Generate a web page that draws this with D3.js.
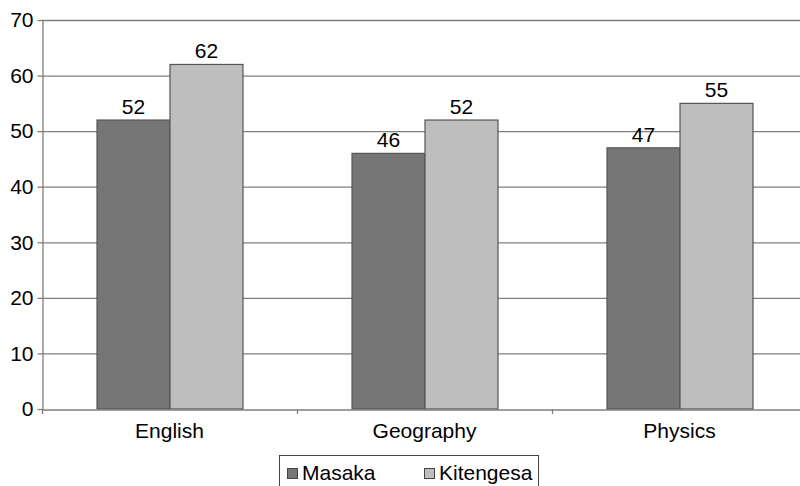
<!DOCTYPE html>
<html><head><meta charset="utf-8">
<script src="https://cdn.jsdelivr.net/npm/d3@7"></script>
<style>
html,body{margin:0;padding:0;background:#fff;overflow:hidden}
text{font-family:"Liberation Sans",Arial,sans-serif;fill:#000}
</style></head>
<body><svg id="c" width="800" height="486"></svg>
<script>
const categories = ["English", "Geography", "Physics"];
const seriesNames = ["Masaka", "Kitengesa"];
const masaka = [52, 46, 47];
const kitengesa = [62, 52, 55];
const yTicks = [0, 10, 20, 30, 40, 50, 60, 70];
const colors = ["#767676", "#bebebe"];

const FONT = "Liberation Sans, Arial, sans-serif";
const FS = 21;
const svg = d3.select("#c");
const mLeft = 42, mRight = 807, mTop = 20, mBottom = 409;
const x = d3.scaleBand().domain(categories).range([mLeft, mRight]).paddingInner(0).paddingOuter(0);
const bw = x.bandwidth();
const xs = d3.scaleBand().domain(seriesNames).range([bw * 0.2157, bw * 0.7882]).paddingInner(0).paddingOuter(0);
const y = d3.scaleLinear().domain([0, 70]).range([mBottom, mTop]);

// gridlines
svg.append("g").selectAll("line").data(yTicks.filter(d => d > 0)).join("line")
  .attr("x1", mLeft).attr("x2", mRight).attr("y1", d => y(d) + 0.5).attr("y2", d => y(d) + 0.5)
  .attr("stroke", "#7f7f7f").attr("stroke-width", 1.3);

// y axis
const ya = svg.append("g").attr("transform", `translate(${mLeft + 0.5},0)`)
  .call(d3.axisLeft(y).tickValues(yTicks).tickSize(5).tickPadding(4).tickSizeOuter(0));
ya.select(".domain").attr("stroke", "#7f7f7f").attr("stroke-width", 1.3);
ya.selectAll(".tick line").attr("stroke", "#7f7f7f").attr("stroke-width", 1.3);
ya.selectAll(".tick text").attr("font-size", FS).attr("font-family", FONT).attr("fill", "#000");

// bars
const data = categories.map((c, i) => ({c, vals: [masaka[i], kitengesa[i]]}));
const groups = svg.append("g").selectAll("g").data(data).join("g")
  .attr("transform", d => `translate(${x(d.c)},0)`);
groups.selectAll("rect").data(d => d.vals.map((v, j) => ({v, s: seriesNames[j], j}))).join("rect")
  .attr("x", d => xs(d.s)).attr("width", xs.bandwidth())
  .attr("y", d => y(d.v)).attr("height", d => y(0) - y(d.v))
  .attr("fill", d => colors[d.j]).attr("stroke", "#555").attr("stroke-width", 1.2);
groups.selectAll("text").data(d => d.vals.map((v, j) => ({v, s: seriesNames[j], j}))).join("text")
  .attr("x", d => xs(d.s) + xs.bandwidth() / 2).attr("y", d => y(d.v) - 6)
  .attr("text-anchor", "middle").attr("font-size", FS).attr("font-family", FONT).text(d => d.v);

// x axis
const xa = svg.append("g").attr("transform", `translate(0,${mBottom + 0.5})`)
  .call(d3.axisBottom(x).tickSize(0).tickPadding(14).tickSizeOuter(0));
xa.select(".domain").attr("stroke", "#7f7f7f").attr("stroke-width", 1.3);
xa.selectAll(".tick text").attr("font-size", FS).attr("font-family", FONT).attr("fill", "#000");
// category separator ticks
svg.append("g").selectAll("line").data(categories).join("line")
  .attr("x1", d => x(d) + 0.5).attr("x2", d => x(d) + 0.5)
  .attr("y1", mBottom).attr("y2", mBottom + 5)
  .attr("stroke", "#7f7f7f").attr("stroke-width", 1.3);

// legend
const lg = svg.append("g");
lg.append("rect").attr("x", 279.5).attr("y", 455.5).attr("width", 259).attr("height", 40)
  .attr("fill", "#fff").attr("stroke", "#444").attr("stroke-width", 1);
const lx = [287, 424];
seriesNames.forEach((s, i) => {
  lg.append("rect").attr("x", lx[i] + 0.5).attr("y", 468.5).attr("width", 10).attr("height", 10)
    .attr("fill", colors[i]).attr("stroke", "#444").attr("stroke-width", 1);
  lg.append("text").attr("x", lx[i] + 15).attr("y", 480).attr("font-size", FS).attr("font-family", FONT).text(s);
});
</script></body></html>
